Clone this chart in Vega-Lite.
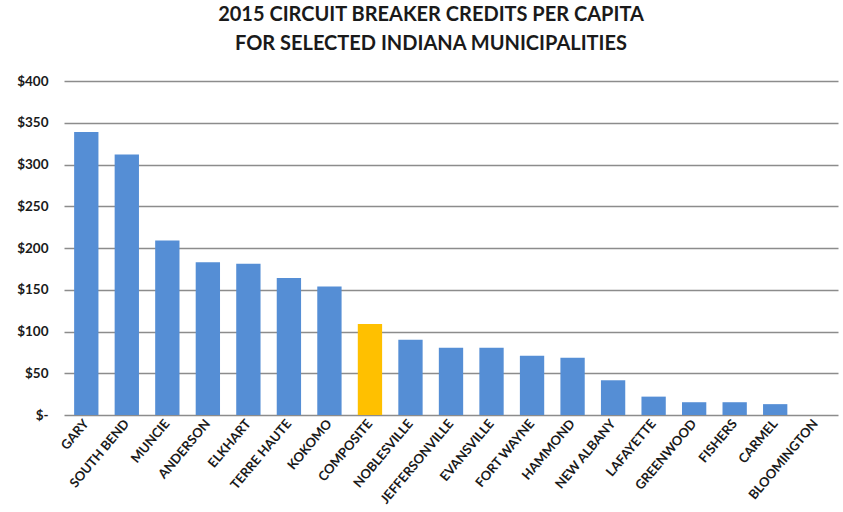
{
  "$schema": "https://vega.github.io/schema/vega-lite/v6.json",
  "autosize": {"type": "none"},
  "padding": {"left": 64, "top": 81, "right": 5, "bottom": 97},
  "width": 774,
  "height": 334,
  "background": "white",
  "title": {
    "text": ["2015 CIRCUIT BREAKER CREDITS PER CAPITA", "FOR SELECTED INDIANA MUNICIPALITIES"],
    "font": "Lato",
    "fontSize": 20,
    "fontWeight": "bold",
    "color": "#1a1a1a",
    "lineHeight": 29,
    "anchor": "middle",
    "dx": -20,
    "offset": 20
  },
  "data": {
    "values": [
      {"city": "GARY", "credit": 339},
      {"city": "SOUTH BEND", "credit": 312},
      {"city": "MUNCIE", "credit": 209},
      {"city": "ANDERSON", "credit": 183},
      {"city": "ELKHART", "credit": 181},
      {"city": "TERRE HAUTE", "credit": 164},
      {"city": "KOKOMO", "credit": 154},
      {"city": "COMPOSITE", "credit": 109},
      {"city": "NOBLESVILLE", "credit": 90},
      {"city": "JEFFERSONVILLE", "credit": 80.5},
      {"city": "EVANSVILLE", "credit": 80.5},
      {"city": "FORT WAYNE", "credit": 71},
      {"city": "HAMMOND", "credit": 68.5},
      {"city": "NEW ALBANY", "credit": 41.6},
      {"city": "LAFAYETTE", "credit": 22},
      {"city": "GREENWOOD", "credit": 15.3},
      {"city": "FISHERS", "credit": 15.3},
      {"city": "CARMEL", "credit": 13},
      {"city": "BLOOMINGTON", "credit": 0}
    ]
  },
  "mark": {"type": "bar"},
  "encoding": {
    "x": {
      "field": "city",
      "type": "nominal",
      "sort": null,
      "scale": {"paddingInner": 0.4, "paddingOuter": 0.25},
      "axis": {
        "title": null,
        "labelAngle": -50,
        "labelAlign": "right",
        "labelBaseline": "middle",
        "labelFont": "Lato",
        "labelFontSize": 13,
        "labelFontWeight": "bold",
        "labelColor": "#1a1a1a",
        "labelPadding": 6,
        "labelOverlap": false,
        "ticks": false,
        "domain": false,
        "grid": false
      }
    },
    "y": {
      "field": "credit",
      "type": "quantitative",
      "scale": {"domain": [0, 400], "nice": false},
      "axis": {
        "title": null,
        "values": [0, 50, 100, 150, 200, 250, 300, 350, 400],
        "labelExpr": "datum.value == 0 ? '$-' : '$' + datum.value",
        "labelFont": "Lato",
        "labelFontSize": 13.5,
        "labelFontWeight": "bold",
        "labelColor": "#1a1a1a",
        "labelPadding": 16,
        "ticks": false,
        "domain": false,
        "grid": true,
        "gridColor": "#8c8c8c",
        "gridWidth": 1.5
      }
    },
    "color": {
      "condition": {"test": "datum.city === 'COMPOSITE'", "value": "#FFC000"},
      "value": "#558ED5"
    }
  },
  "config": {"view": {"stroke": null}}
}
